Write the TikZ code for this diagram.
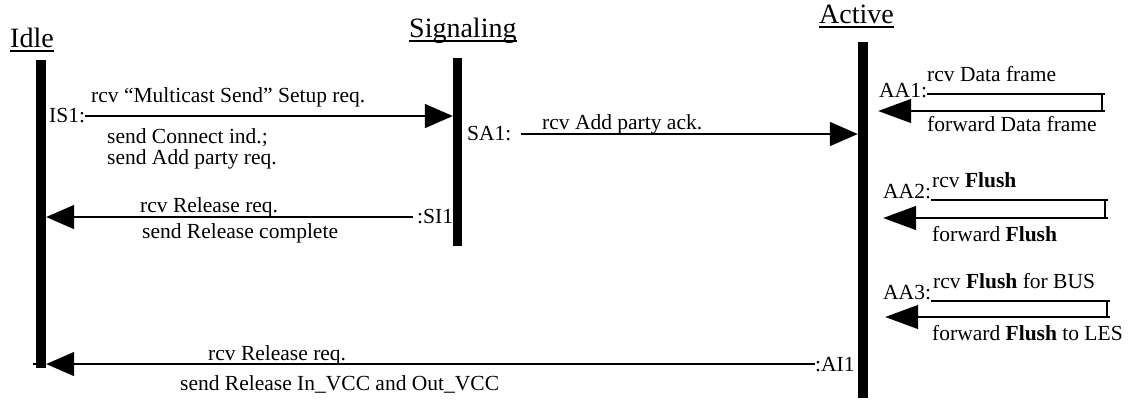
\documentclass[tikz,border=0pt]{standalone}
\usepackage{fontspec}
\setmainfont{Liberation Serif}
\usetikzlibrary{arrows.meta,calc}
\begin{document}
\begin{tikzpicture}[x=1pt,y=-1pt,
  txt/.style={inner sep=0pt, anchor=base west, font=\fontsize{21.5}{22}\selectfont},
  hdr/.style={inner sep=0pt, anchor=base west, font=\fontsize{28}{30}\selectfont},
  bar/.style={fill=black, draw=none, inner sep=0pt, minimum width=10pt},
  uline/.style={line width=1.2pt},
  msg/.style={line width=1.6pt, -{Triangle[length=28pt,width=24pt]}},
  loopln/.style={line width=1.4pt},
  loopar/.style={line width=1.4pt, -{Triangle[length=33pt,width=24pt]}}
]
\useasboundingbox (0,0) rectangle (1129,403);

% state bars
\node[bar, minimum height=308pt] (idlebar) at (41,214) {};
\node[bar, minimum height=188pt, minimum width=9pt] (sigbar) at (457.5,152) {};
\node[bar, minimum height=356pt] (actbar) at (863,220) {};

% headings
\node[hdr] (idle) at (10,48) {Idle};
\draw[uline] ($(idle.base west)+(0,3)$) -- ($(idle.base east)+(0,3)$);
\node[hdr] (sig) at (409,38) {Signaling};
\draw[uline] ($(sig.base west)+(0,3)$) -- ($(sig.base east)+(0,3)$);
\node[hdr] (act) at (819,24) {Active};
\draw[uline] ($(act.base west)+(0,3)$) -- ($(act.base east)+(0,3)$);

% IS1
\node[txt] (is1) at (49,123) {IS1:};
\draw[msg] (is1.east) -- (is1.east -| sigbar.west);
\node[txt] (is1a) at (91,103) {rcv “Multicast Send” Setup req.};
\node[txt] (is1b) at (107,144) {send Connect ind.;};
\node[txt] (is1c) at (107,165) {send Add party req.};

% SA1
\node[txt] (sa1) at (467,141) {SA1:};
\draw[msg] ($(sa1.east)+(9,0)$) -- (sa1.east -| actbar.west);
\node[txt] (sa1a) at (542,130) {rcv Add party ack.};

% SI1
\node[txt] (si1) at (417,224) {:SI1};
\draw[msg] ($(si1.west)+(-4,0)$) -- (si1.west -| idlebar.east);
\node[txt] (si1a) at (140,213) {rcv Release req.};
\node[txt] (si1b) at (142,239) {send Release complete};

% AI1
\node[txt] (ai1) at (815,371) {:AI1};
\draw[msg] (ai1.west) -- (ai1.west -| idlebar.east);
\draw[line width=1.6pt] (ai1.west -| idlebar.west) -- ++(-3,0);
\node[txt] (ai1a) at (208,360) {rcv Release req.};
\node[txt] (ai1b) at (180,390) {send Release In\_VCC and Out\_VCC};

% AA1
\node[txt] (aa1) at (879,98) {AA1:};
\coordinate (aa1t) at (1105,94);
\coordinate (aa1b) at (1105,111);
\draw[loopln] (aa1t -| aa1.east) -- (aa1t);
\draw[loopln] ($(aa1t)+(-3,0)$) -- ($(aa1b)+(-3,0)$);
\draw[loopar] (aa1b) -- ($(aa1b -| actbar.east)+(10,0)$);
\node[txt] (aa1a) at (927,82) {rcv Data frame};
\node[txt] (aa1c) at (927,132) {forward Data frame};

% AA2
\node[txt] (aa2) at (883,199) {AA2:};
\coordinate (aa2t) at (1108,200);
\coordinate (aa2b) at (1108,218);
\draw[loopln] (aa2t -| aa2.east) -- (aa2t);
\draw[loopln] ($(aa2t)+(-3,0)$) -- ($(aa2b)+(-3,0)$);
\draw[loopar] (aa2b) -- ($(aa2b -| actbar.east)+(15,0)$);
\node[txt] (aa2a) at (932,188) {rcv \textbf{Flush}};
\node[txt] (aa2c) at (932,242) {forward \textbf{Flush}};

% AA3
\node[txt] (aa3) at (883,299) {AA3:};
\coordinate (aa3t) at (1110,301);
\coordinate (aa3b) at (1110,317);
\draw[loopln] (aa3t -| aa3.east) -- (aa3t);
\draw[loopln] ($(aa3t)+(-3,0)$) -- ($(aa3b)+(-3,0)$);
\draw[loopar] (aa3b) -- ($(aa3b -| actbar.east)+(17,0)$);
\node[txt] (aa3a) at (933,288) {rcv \textbf{Flush} for BUS};
\node[txt] (aa3c) at (932,340) {forward \textbf{Flush} to LES};
\end{tikzpicture}
\end{document}
